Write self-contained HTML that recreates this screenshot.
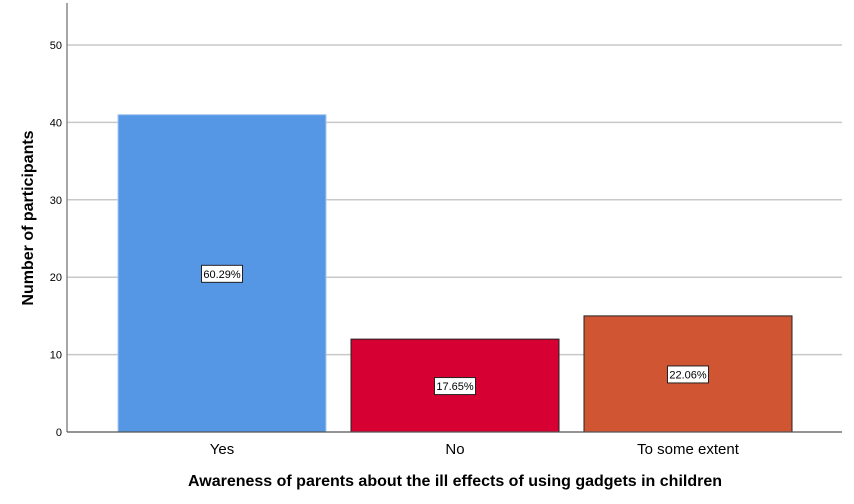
<!DOCTYPE html>
<html><head><meta charset="utf-8"><style>
body{margin:0;background:#fff}
svg{display:block;font-family:"Liberation Sans",Arial,sans-serif}
</style></head><body>
<svg id="chart" width="854" height="504">
<g id="grid"></g>
<g id="bars"></g>
<g id="axes"></g>
<text x="455" y="486" text-anchor="middle" font-size="16" font-weight="bold" fill="#000">Awareness of parents about the ill effects of using gadgets in children</text>
<text transform="translate(33,218) rotate(-90)" text-anchor="middle" font-size="16" font-weight="bold" fill="#000">Number of participants</text>
</svg>
<script>
const categories=["Yes","No","To some extent"];
const counts=[41,12,15];
const percentLabels=["60.29%","17.65%","22.06%"];
const yTicks=[0,10,20,30,40,50];
const colors=["#5597e5","#d60032","#d05533"];
const NS="http://www.w3.org/2000/svg";
const x0=67,x1=842,yBase=432,pxPerUnit=7.74;
const y=v=>yBase-v*pxPerUnit;
const slotW=233,barW=208,firstCenter=222;
const xc=i=>firstCenter+i*slotW;
function mk(tag,attrs,parent,txt){const e=document.createElementNS(NS,tag);for(const k in attrs)e.setAttribute(k,attrs[k]);if(txt!==undefined)e.textContent=txt;parent.appendChild(e);return e;}
const grid=document.getElementById('grid'),bars=document.getElementById('bars'),axes=document.getElementById('axes');
yTicks.forEach(t=>{
  if(t>0){const l=mk('line',{x1:x0,x2:x1,y1:y(t),y2:y(t),stroke:'#c8c8c8','stroke-width':1.5},grid);
  
  }
  const tx=mk('text',{x:62,y:y(t)+4,'text-anchor':'end','font-size':11,fill:'#000'},axes,String(t));
  
  
});
categories.forEach((c,i)=>{
  const top=y(counts[i]);
  const r=mk('rect',{x:xc(i)-barW/2,y:top,width:barW,height:yBase-top,fill:colors[i],stroke:i===0?'#a9c8ef':'#222','stroke-width':1},bars);
  
  
  const my=(top+yBase)/2;
  const g=mk('g',{},bars);
  
  
  mk('rect',{x:xc(i)-20.5,y:my-8,width:41,height:17,fill:'#fff',stroke:'#222','stroke-width':1},g);
  mk('text',{x:xc(i),y:my+4.5,'text-anchor':'middle','font-size':11,fill:'#000'},g,percentLabels[i]);
  const cl=mk('text',{x:xc(i),y:454,'text-anchor':'middle','font-size':15,fill:'#000'},axes,c);
  
  
});
const ya=mk('line',{x1:x0,x2:x0,y1:3,y2:yBase,stroke:'#888','stroke-width':1.5},axes);


const xa=mk('line',{x1:x0,x2:x1,y1:yBase,y2:yBase,stroke:'#555','stroke-width':1.2},axes);


</script>
</body></html>
